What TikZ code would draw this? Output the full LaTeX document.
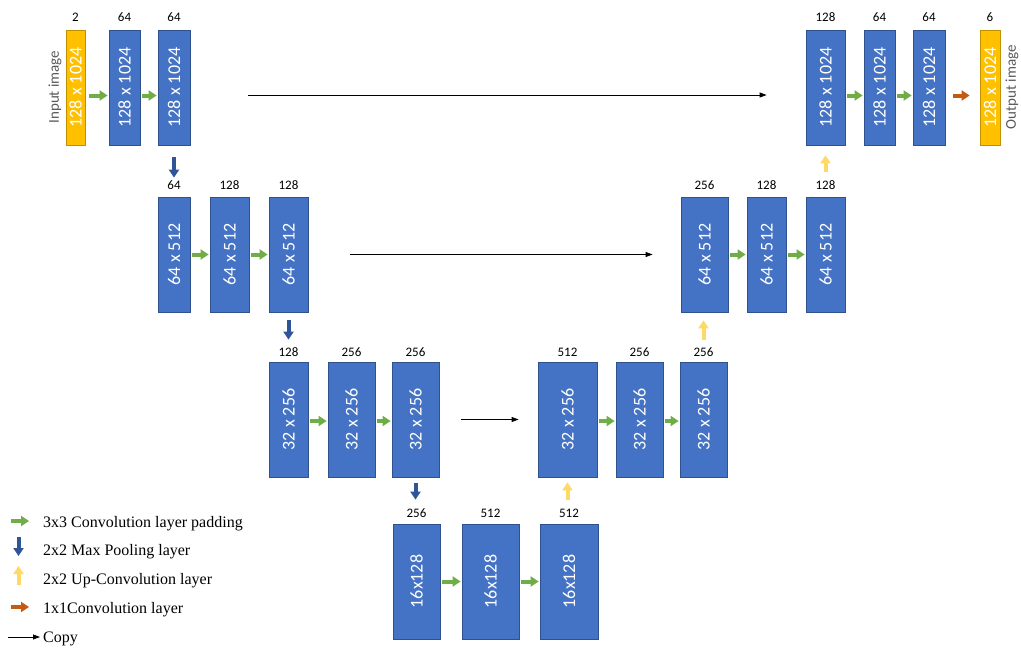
\documentclass[tikz,border=0pt]{standalone}
\usepackage{graphicx}
\usepackage{fontspec}
\setmainfont{Carlito}
\newfontfamily\tms{Liberation Serif}
\usetikzlibrary{arrows.meta}
\definecolor{boxblue}{HTML}{4472C4}
\definecolor{boxedge}{HTML}{2F528F}
\definecolor{ybox}{HTML}{FFC000}
\definecolor{yedge}{HTML}{BF9000}
\definecolor{convgreen}{HTML}{70AD47}
\definecolor{poolblue}{HTML}{2F5597}
\definecolor{upyellow}{HTML}{FFD966}
\definecolor{orng}{HTML}{C55A11}
\definecolor{txtgray}{HTML}{595959}
\begin{document}
\begin{tikzpicture}[x=1pt,y=-1pt,
 layer/.style={draw=boxedge, fill=boxblue, line width=0.8pt, inner sep=0pt, minimum height=115pt, text=white, font=\fontsize{18}{20}\selectfont},
 io/.style={layer, draw=yedge, fill=ybox},
 num/.style={font=\fontsize{13}{15}\selectfont, inner sep=0pt},
 side/.style={text=txtgray, rotate=90, inner sep=0pt, font=\fontsize{15}{17}\selectfont},
 legend/.style={anchor=base west, inner sep=0pt, font=\tms\fontsize{16}{18}\selectfont},
 blockarrow/.style={line width=4pt, -{Triangle[length=8pt,width=10pt]}},
 conv/.style={blockarrow, draw=convgreen, shorten <=2pt, shorten >=1pt},
 pool/.style={blockarrow, draw=poolblue},
 upconv/.style={blockarrow, draw=upyellow},
 oneconv/.style={blockarrow, draw=orng},
 copy/.style={draw=black, line width=0.8pt, -{Triangle[length=7pt,width=5pt]}}
]
\useasboundingbox (0,0) rectangle (1021,648);

% ---- row 1 ----
\node[io, minimum width=19pt] (in) at (75.5,87.5) {\rotatebox{90}{128 x 1024}};
\node[layer, minimum width=31pt] (a1) at (124.5,87.5) {\rotatebox{90}{128 x 1024}};
\node[layer, minimum width=32pt] (a2) at (174,87.5) {\rotatebox{90}{128 x 1024}};
\node[layer, minimum width=39pt] (o1) at (825.5,87.5) {\rotatebox{90}{128 x 1024}};
\node[layer, minimum width=31pt] (o2) at (879.5,87.5) {\rotatebox{90}{128 x 1024}};
\node[layer, minimum width=32pt] (o3) at (929,87.5) {\rotatebox{90}{128 x 1024}};
\node[io, minimum width=20pt] (out) at (990,87.5) {\rotatebox{90}{128 x 1024}};
\node[side] (inlbl) at (55,87) {Input image};
\node[side] (outlbl) at (1012,87) {Output image};
\node[num] (nin) at (75.5,17) {2};
\node[num] (na1) at (124.5,17) {64};
\node[num] (na2) at (174,17) {64};
\node[num] (no1) at (825.5,17) {128};
\node[num] (no2) at (879.5,17) {64};
\node[num] (no3) at (929,17) {64};
\node[num] (nout) at (990,17) {6};

% ---- row 2 ----
\node[layer, minimum width=32pt] (b1) at (174,254.5) {\rotatebox{90}{64 x 512}};
\node[layer, minimum width=39pt] (b2) at (229.5,254.5) {\rotatebox{90}{64 x 512}};
\node[layer, minimum width=39pt] (b3) at (288.5,254.5) {\rotatebox{90}{64 x 512}};
\node[layer, minimum width=47pt] (p1) at (704.5,254.5) {\rotatebox{90}{64 x 512}};
\node[layer, minimum width=39pt] (p2) at (766.5,254.5) {\rotatebox{90}{64 x 512}};
\node[layer, minimum width=39pt] (p3) at (825.5,254.5) {\rotatebox{90}{64 x 512}};
\node[num] (nb1) at (174,185) {64};
\node[num] (nb2) at (229.5,185) {128};
\node[num] (nb3) at (288.5,185) {128};
\node[num] (np1) at (704.5,185) {256};
\node[num] (np2) at (766.5,185) {128};
\node[num] (np3) at (825.5,185) {128};

% ---- row 3 ----
\node[layer, minimum width=39pt] (c1) at (288.5,419.5) {\rotatebox{90}{32 x 256}};
\node[layer, minimum width=47pt] (c2) at (351.5,419.5) {\rotatebox{90}{32 x 256}};
\node[layer, minimum width=47pt] (c3) at (415.5,419.5) {\rotatebox{90}{32 x 256}};
\node[layer, minimum width=59pt] (q1) at (567.5,419.5) {\rotatebox{90}{32 x 256}};
\node[layer, minimum width=47pt] (q2) at (639.5,419.5) {\rotatebox{90}{32 x 256}};
\node[layer, minimum width=47pt] (q3) at (703.5,419.5) {\rotatebox{90}{32 x 256}};
\node[num] (nc1) at (288.5,352) {128};
\node[num] (nc2) at (351.5,352) {256};
\node[num] (nc3) at (415.5,352) {256};
\node[num] (nq1) at (567.5,352) {512};
\node[num] (nq2) at (639.5,352) {256};
\node[num] (nq3) at (703.5,352) {256};

% ---- row 4 ----
\node[layer, minimum width=47pt] (d1) at (416.5,581.5) {\rotatebox{90}{16x128}};
\node[layer, minimum width=57pt] (d2) at (490.5,581.5) {\rotatebox{90}{16x128}};
\node[layer, minimum width=58pt] (d3) at (569,581.5) {\rotatebox{90}{16x128}};
\node[num] (nd1) at (416.5,513) {256};
\node[num] (nd2) at (490.5,513) {512};
\node[num] (nd3) at (569,513) {512};

% ---- convolution arrows ----
\draw[conv, shorten <=4pt] ([yshift=-8pt]in.east) -- ([yshift=-8pt]a1.west);
\draw[conv] ([yshift=-8pt]a1.east) -- ([yshift=-8pt]a2.west);
\draw[conv] ([yshift=-8pt]o1.east) -- ([yshift=-8pt]o2.west);
\draw[conv] ([yshift=-8pt]o2.east) -- ([yshift=-8pt]o3.west);
\draw[oneconv, shorten <=8pt, shorten >=10pt] ([yshift=-8pt]o3.east) -- ([yshift=-8pt]out.west);
\draw[conv] (b1) -- (b2);
\draw[conv] (b2) -- (b3);
\draw[conv] (p1) -- (p2);
\draw[conv] (p2) -- (p3);
\draw[conv] ([yshift=-1.5pt]c1.east) -- ([yshift=-1.5pt]c2.west);
\draw[conv] ([yshift=-1.5pt]c2.east) -- ([yshift=-1.5pt]c3.west);
\draw[conv] ([yshift=-1.5pt]q1.east) -- ([yshift=-1.5pt]q2.west);
\draw[conv] ([yshift=-1.5pt]q2.east) -- ([yshift=-1.5pt]q3.west);
\draw[conv] (d1) -- (d2);
\draw[conv] (d2) -- (d3);

% ---- copy arrows ----
\draw[copy, shorten <=58pt, shorten >=39pt] ([yshift=-7.5pt]a2.east) -- ([yshift=-7.5pt]o1.west);
\draw[copy, shorten <=42pt, shorten >=28pt] (b3) -- (p1);
\draw[copy, shorten <=22pt, shorten >=19pt] (c3) -- (q1);

% ---- pooling arrows ----
\draw[pool, shorten <=12pt, shorten >=19pt] (a2.south) -- (b1.north);
\draw[pool, shorten <=8pt, shorten >=22pt] (b3.south) -- (c1.north);
\draw[pool, shorten <=6pt, shorten >=24pt] (c3.south) -- (c3.south |- d1.north);

% ---- up-convolution arrows ----
\draw[upconv, shorten <=24pt, shorten >=5pt] ([xshift=-1.5pt]d3.north) -- ([xshift=-1.5pt]d3.north |- q1.south);
\draw[upconv, shorten <=22pt, shorten >=8pt] (q3.north) -- (q3.north |- p1.south);
\draw[upconv, shorten <=25pt, shorten >=10pt] (p3.north) -- (o1.south);

% ---- legend ----
\coordinate (l1a) at (11,521);  \coordinate (l1b) at (29,521);
\coordinate (l2a) at (18.5,537); \coordinate (l2b) at (18.5,556);
\coordinate (l3a) at (18.5,585); \coordinate (l3b) at (18.5,566);
\coordinate (l4a) at (11,607);  \coordinate (l4b) at (29,607);
\coordinate (l5a) at (8,637);   \coordinate (l5b) at (40,637);
\draw[blockarrow, draw=convgreen] (l1a) -- (l1b);
\draw[pool] (l2a) -- (l2b);
\draw[upconv] (l3a) -- (l3b);
\draw[oneconv] (l4a) -- (l4b);
\draw[copy] (l5a) -- (l5b);
\node[legend] (t1) at (43,527) {3x3 Convolution layer padding};
\node[legend] (t2) at (43,555.5) {2x2 Max Pooling layer};
\node[legend] (t3) at (43,584.5) {2x2 Up-Convolution layer};
\node[legend] (t4) at (43,613) {1x1Convolution layer};
\node[legend] (t5) at (43,642) {Copy};
\end{tikzpicture}
\end{document}
